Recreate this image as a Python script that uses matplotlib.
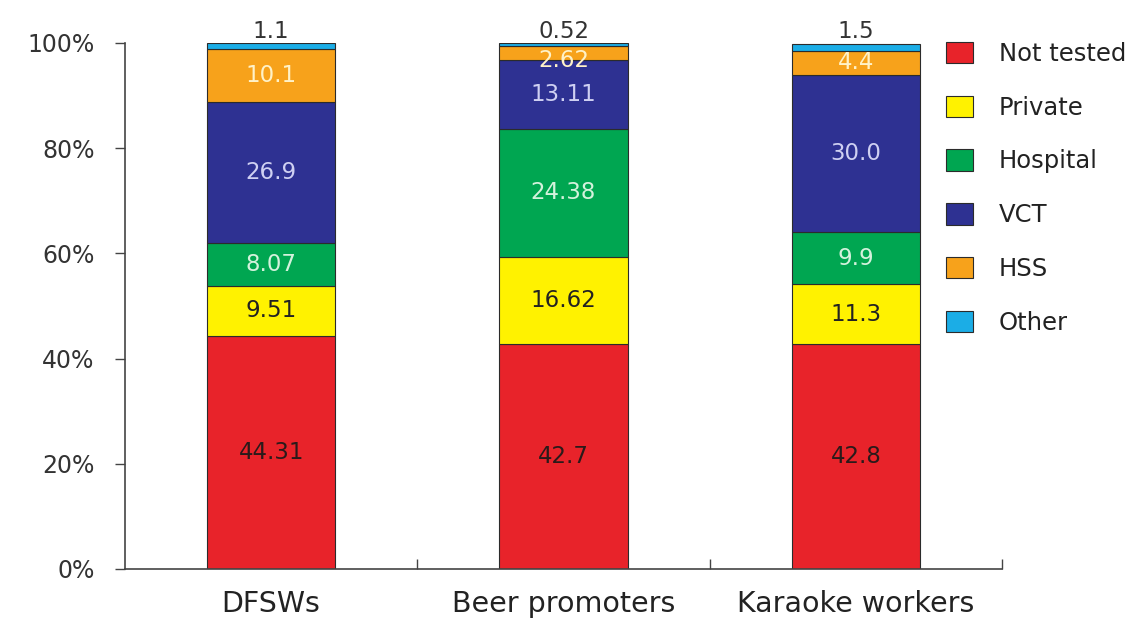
import numpy as np
import matplotlib
matplotlib.use("Agg")
import matplotlib.pyplot as plt
from matplotlib.patches import Patch

# Données
groups = ["DFSWs", "Beer promoters", "Karaoke workers"]
series = ["Not tested", "Private", "Hospital", "VCT", "HSS", "Other"]
not_tested = [44.31, 42.7, 42.8]
private = [9.51, 16.62, 11.3]
hospital = [8.07, 24.38, 9.9]
vct = [26.9, 13.11, 30.0]
hss = [10.1, 2.62, 4.4]
other = [1.1, 0.52, 1.5]
labels = [
    ["44.31", "42.7", "42.8"],
    ["9.51", "16.62", "11.3"],
    ["8.07", "24.38", "9.9"],
    ["26.9", "13.11", "30.0"],
    ["10.1", "2.62", "4.4"],
    ["1.1", "0.52", "1.5"],
]

colors = ["#E8232A", "#FFF200", "#00A651", "#2E3192", "#F7A21B", "#1BADE6"]
text_colors = ["#2a1a1a", "#222222", "#d4f2dc", "#cfd0f2", "#fff2c8", "#333333"]

plt.rcParams['font.family'] = ['DejaVu Sans']

fig = plt.figure(figsize=(11.28, 6.2), dpi=100)
ax = fig.add_axes([125/1128, 1 - 569/620, 877/1128, 526/620])

x = np.arange(len(groups))
width = 0.44
bottom = np.zeros(len(groups))
values = [not_tested, private, hospital, vct, hss, other]

for i, vals in enumerate(values):
    vals = np.array(vals)
    ax.bar(x, vals, width, bottom=bottom, color=colors[i],
           edgecolor="#2b2b2b", linewidth=0.8)
    for j in range(len(groups)):
        if series[i] == "Other":
            ax.annotate(labels[i][j], (x[j], 100), xytext=(0, 0),
                        textcoords="offset points", ha="center", va="bottom",
                        fontsize=16.5, color=text_colors[i])
        else:
            yc = bottom[j] + vals[j] / 2
            if vals[j] < 3:
                yc -= 1.5
            ax.text(x[j], yc, labels[i][j], ha="center", va="center",
                    fontsize=16.5, color=text_colors[i])
    bottom += vals

ax.set_xlim(-0.5, 2.5)
ax.set_ylim(0, 100)
ax.set_yticks(np.arange(0, 101, 20))
ax.set_yticklabels(["%d%%" % v for v in range(0, 101, 20)])
ax.tick_params(axis="y", direction="out", length=7, width=1, pad=15,
               labelsize=17, colors="#444444", labelcolor="#333333")

# ticks entre les groupes, étiquettes au centre
ax.set_xticks([0.5, 1.5, 2.5])
ax.set_xticklabels([])
ax.tick_params(axis="x", which="major", direction="in", length=7, width=1,
               colors="#444444")
ax.set_xticks(x, minor=True)
ax.set_xticklabels(groups, minor=True)
ax.tick_params(axis="x", which="minor", length=0, pad=15, labelsize=20.5,
               labelcolor="#222222")

for s in ["top", "right"]:
    ax.spines[s].set_visible(False)
for s in ["left", "bottom"]:
    ax.spines[s].set_color("#444444")
    ax.spines[s].set_linewidth(1.2)

handles = [Patch(facecolor=c, edgecolor="#2b2b2b", linewidth=0.8) for c in colors]
fig.legend(handles, series, loc="upper left",
           bbox_to_anchor=(946/1128, 1 - 42/620), frameon=False,
           fontsize=17.5, handlelength=1.12, handleheight=0.98,
           handletextpad=1.05, labelspacing=1.22, borderpad=0,
           borderaxespad=0, labelcolor="#222222")

fig.savefig("out.png", dpi=100)
